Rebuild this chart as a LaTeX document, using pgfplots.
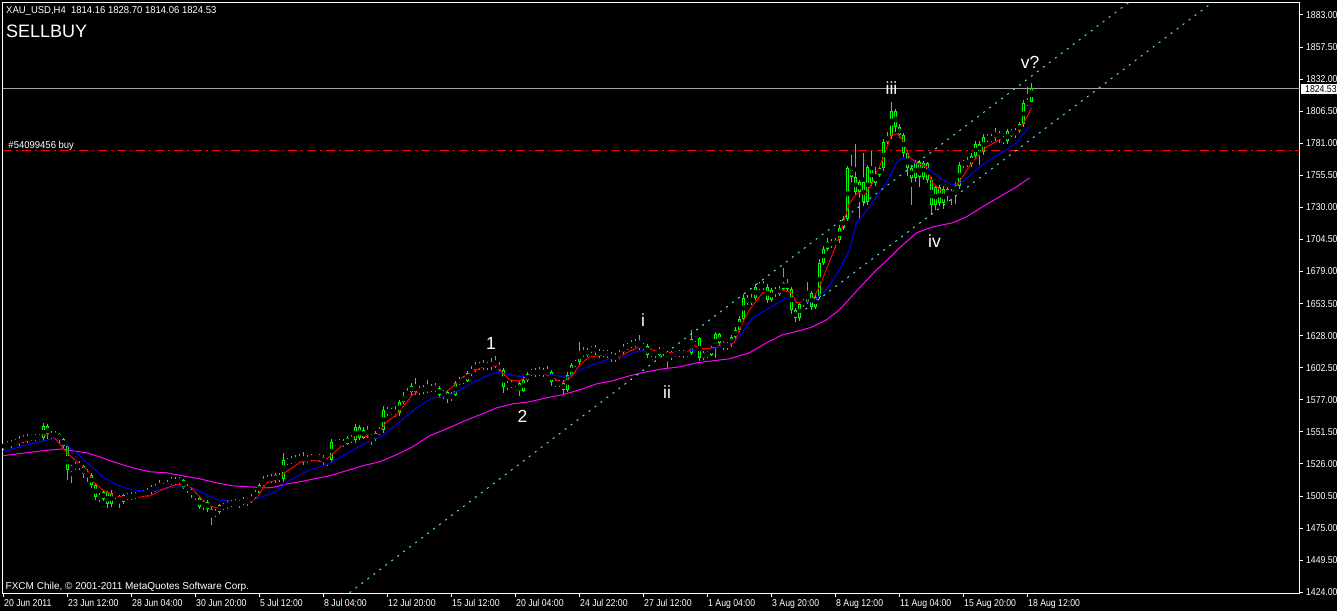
\documentclass[border=0pt]{standalone}
\usepackage{pgfplots}
\pgfplotsset{compat=1.18}
\usepackage{pgfplotstable}
\usepackage{fontspec}
\setmainfont{Liberation Sans}
\newfontfamily\mtfontA[FakeStretch=0.87]{Liberation Sans}
\newfontfamily\mtfontB[FakeStretch=0.95]{Liberation Sans}
\newcommand\mtA{\mtfontA\fontsize{10}{12}\selectfont}
\newcommand\mtB{\mtfontB\fontsize{10}{12}\selectfont}
\newcommand\mtC{\fontsize{10}{12}\selectfont}
\newcommand\wavefont{\fontsize{17.5}{20}\selectfont}
\newcommand\titlefont{\fontsize{18}{21}\selectfont}
\definecolor{cgreen}{RGB}{0,255,0}
\definecolor{mablue}{RGB}{0,0,255}
\definecolor{mared}{RGB}{255,0,0}
\definecolor{mamag}{RGB}{255,0,255}
\definecolor{chan}{RGB}{90,225,235}
\definecolor{pline}{RGB}{160,160,160}

\pgfplotstableread{
i o h l c
0 1540 1543 1537 1541
1 1541 1544 1539 1540.5
2 1540.5 1545 1539 1543.5
3 1543.5 1546 1541 1542.5
4 1542.5 1548 1540 1546
5 1546 1549 1543 1545
6 1545 1550 1543 1547.5
7 1547.5 1549 1544 1546
8 1546 1550 1544.5 1548
9 1548 1550 1545 1546.5
10 1546.5 1558.5 1544 1556
11 1556 1558 1546 1549.5
12 1549.5 1552 1546 1548
13 1548 1552 1546.5 1549.5
14 1549.5 1551 1543 1546
15 1546 1547 1538 1540
16 1540 1541 1513.5 1521.5
17 1521.5 1525 1511 1523
18 1523 1527.5 1521 1525.5
19 1525.5 1528 1521.5 1524
20 1524 1525 1515 1518
21 1518 1522 1512 1517
22 1517 1519 1507 1509.5
23 1509.5 1511 1497 1500
24 1500 1503 1496 1498.5
25 1498.5 1505 1496.5 1503.5
26 1503.5 1504.5 1491 1494
27 1494 1505 1492 1503
28 1503 1504 1498 1500
29 1500 1501.5 1491 1496
30 1496 1502.5 1494.5 1501
31 1501 1503 1497 1498.5
32 1498.5 1503.5 1497 1501.5
33 1501.5 1504 1498 1500.5
34 1500.5 1505.5 1499 1503
35 1503 1505 1500 1502
36 1502 1507 1500.5 1504
37 1504 1509 1502 1507.5
38 1507.5 1510 1504 1506
39 1506 1513.5 1505 1509
40 1509 1511 1505.5 1508
41 1508 1513 1506 1511
42 1511 1516 1509 1513
43 1513 1515.5 1509 1511.5
44 1511.5 1516 1509.5 1513.5
45 1513.5 1514 1506 1508
46 1508 1510 1503 1505
47 1505 1507 1499 1502
48 1502 1504 1497 1499
49 1499 1500 1490.5 1492
50 1492 1497.5 1489 1496
51 1496 1497 1488 1490
52 1490 1492 1477.5 1486
53 1486 1490 1483.5 1488
54 1488 1494.5 1486 1493
55 1493 1495 1489 1491.5
56 1491.5 1497 1490 1495
57 1495 1497.5 1492 1494
58 1494 1498 1492.5 1495.5
59 1495.5 1497.5 1491 1494.5
60 1494.5 1500 1493 1497.5
61 1497.5 1499 1492.5 1496
62 1496 1502 1495 1500
63 1500 1505 1498.5 1503
64 1503 1511 1502 1509.5
65 1509.5 1516.5 1508.5 1512.5
66 1512.5 1517 1511 1515
67 1515 1518 1511 1513
68 1513 1519 1511 1517
69 1517 1519 1512 1514
70 1514 1535 1512 1529
71 1529 1531 1525 1527.5
72 1527.5 1532 1526 1529.5
73 1529.5 1533 1526.5 1528.5
74 1528.5 1534 1527.5 1531
75 1531 1535.5 1525 1529
76 1529 1533 1527 1530.5
77 1530.5 1534 1528 1532
78 1532 1533.5 1528 1530
79 1530 1534 1528.5 1531.5
80 1531.5 1533 1525 1527.5
81 1527.5 1531 1524 1529
82 1529 1546 1527 1543.5
83 1543.5 1545 1540 1542
84 1542 1546 1540.5 1543
85 1543 1545.5 1539.5 1542
86 1542 1548 1541 1546.5
87 1546.5 1549 1543 1545
88 1545 1558 1543 1555
89 1555 1557 1545 1547
90 1547 1555 1545.5 1553
91 1553 1556 1547 1549
92 1549 1550 1541 1546
93 1546 1552 1544.5 1550.5
94 1550.5 1555 1549 1553
95 1553 1572 1551 1569
96 1569 1571 1564.5 1566.5
97 1566.5 1570.5 1565 1568
98 1568 1572 1563 1566.5
99 1566.5 1577 1564.5 1575
100 1575 1583 1573.5 1580
101 1580 1586 1579 1583
102 1583 1590 1581 1588
103 1588 1594 1581 1583
104 1583 1588 1581 1586
105 1586 1589 1581.5 1584
106 1584 1593 1582.5 1587
107 1587 1589.5 1583 1585
108 1585 1590 1583.5 1586.5
109 1586.5 1588 1579 1581
110 1581 1585 1578 1583
111 1583 1584 1574.5 1577.5
112 1577.5 1583 1576 1581
113 1581 1592 1580 1590
114 1590 1595 1588.5 1593
115 1593 1596 1589.5 1592
116 1592 1600 1591 1598
117 1598 1603.5 1596 1601
118 1601 1607 1599.5 1605
119 1605 1607 1601 1603
120 1603 1608.5 1601 1606
121 1606 1607 1601 1603
122 1603 1610 1601 1607
123 1607 1611.5 1602 1605
124 1605 1607 1599 1601
125 1601 1602 1582.5 1587.5
126 1587.5 1592 1585 1590
127 1590 1592.5 1586 1588.5
128 1588.5 1593 1587 1590.5
129 1590.5 1592 1580 1584
130 1584 1595 1583 1592.5
131 1592.5 1599 1591 1597.5
132 1597.5 1601.5 1596 1600
133 1600 1602 1595.5 1597
134 1597 1603 1596 1600
135 1600 1602.5 1595 1598
136 1598 1603.5 1596 1599.5
137 1599.5 1601 1588 1591
138 1591 1593 1587 1589.5
139 1589.5 1593 1587.5 1590.5
140 1590.5 1593 1582 1584.5
141 1584.5 1599 1583 1597
142 1597 1606 1596 1604.5
143 1604.5 1609 1603 1607
144 1607 1623 1605 1615
145 1615 1619 1611 1613
146 1613 1618.5 1611 1616.5
147 1616.5 1620 1614.5 1618
148 1618 1620.5 1613 1615
149 1615 1617.5 1610.5 1613
150 1613 1617 1611 1614.5
151 1614.5 1616.5 1610 1613
152 1613 1615 1607 1610.5
153 1610.5 1614 1607 1611.5
154 1611.5 1617 1609.5 1615
155 1615 1621.5 1613.5 1619
156 1619 1622 1617 1620
157 1620 1624.5 1618 1622.5
158 1622.5 1625 1619 1621.5
159 1621.5 1628.5 1617 1619
160 1619 1622 1617 1620
161 1620 1621 1610 1613
162 1613 1616 1611 1614.5
163 1614.5 1616.5 1610.5 1613
164 1613 1619 1611.5 1617
165 1617 1618.5 1612 1615
166 1615 1616 1602.5 1611
167 1611 1616 1609 1614
168 1614 1616 1611 1613
169 1613 1616.5 1611 1614.5
170 1614.5 1617 1610.5 1613
171 1613 1616 1611 1614
172 1614 1632.5 1613 1625
173 1625 1628 1623 1626
174 1626 1627 1607.5 1610.5
175 1610.5 1616 1609 1614
176 1614 1615.5 1610.5 1613
177 1613 1620 1612 1618.5
178 1618.5 1631 1610 1629
179 1629 1630.5 1620 1622
180 1622 1623.5 1617 1619.5
181 1619.5 1623 1617 1621
182 1621 1628.5 1619 1627
183 1627 1634.5 1625 1632.5
184 1632.5 1643.5 1631 1641.5
185 1641.5 1661 1640 1658
186 1658 1660 1652 1654
187 1654 1661 1652 1658
188 1658 1669 1656 1666.5
189 1666.5 1671 1664.5 1668
190 1668 1671.5 1664 1667
191 1667 1669 1654 1656.5
192 1656.5 1666 1654.5 1664
193 1664 1667 1659 1661.5
194 1661.5 1667.5 1659.5 1665.5
195 1665.5 1682 1663.5 1670
196 1670 1673 1663 1665.5
197 1665.5 1667 1645.5 1648.5
198 1648.5 1650 1639 1642
199 1642 1655 1640 1653.5
200 1653.5 1657.5 1651 1655
201 1655 1671 1653 1662
202 1662 1663.5 1648.5 1651
203 1651 1661 1649 1659
204 1659 1689 1657 1686
205 1686 1699 1684 1697
206 1697 1706 1695 1702.5
207 1702.5 1705 1698 1700
208 1700 1706 1698 1704
209 1704 1716 1702 1714
210 1714 1723 1712 1721
211 1721 1763 1719 1761
212 1761 1772 1750 1754
213 1754 1780 1740 1742
214 1742 1752 1720 1750
215 1750 1773 1731 1734
216 1734 1764 1732 1762
217 1762 1775 1747 1749.5
218 1749.5 1762 1747 1756
219 1756 1763 1754 1761
220 1761 1784 1759 1782
221 1782 1790 1780 1786.5
222 1786.5 1814 1784 1807
223 1807 1808.5 1790 1794
224 1794 1796 1785 1787.5
225 1787.5 1789 1770 1773
226 1773 1776 1755 1761.5
227 1761.5 1764 1732 1753.5
228 1753.5 1768 1750 1766
229 1766 1768 1746 1754
230 1754 1767 1752 1765
231 1765 1766 1749 1752
232 1752 1754 1724 1732
233 1732 1748 1728 1746
234 1746 1748 1731 1733.5
235 1733.5 1747 1729 1745
236 1745 1746.5 1735 1739
237 1739 1745 1732 1743
238 1743 1750 1733 1747
239 1747 1766 1745 1763.5
240 1763.5 1768 1761 1766
241 1766 1770 1762 1764.5
242 1764.5 1773 1762 1771
243 1771 1782.5 1769 1780.5
244 1780.5 1782.5 1764 1774
245 1774 1788 1772 1786
246 1786 1788.5 1782 1784
247 1784 1788 1782 1785.5
248 1785.5 1793 1783 1789
249 1789 1791 1781 1785.5
250 1785.5 1787 1780 1782.5
251 1782.5 1792.5 1780 1790.5
252 1790.5 1792 1786 1788
253 1788 1793 1785 1791
254 1791 1798 1789.5 1796
255 1796 1815 1794 1813
256 1813 1826 1811 1814
257 1814.16 1828.70 1814.06 1824.53
}\candles

\begin{document}
\begin{tikzpicture}[x=1pt,y=1pt]
\useasboundingbox (0,0) rectangle (1337,611);
\fill[black] (0,0) rectangle (1337,611);
\begin{axis}[
  at={(2.5pt,17.5pt)}, anchor=south west,
  scale only axis, width=1297pt, height=591pt,
  xmin=-0.25, xmax=324, ymin=1423.0, ymax=1892.9,
  axis background/.style={fill=black},
  axis line style={white, line width=1pt},
  tick style={white, line width=1pt},
  tick align=outside, major tick length=3pt,
  xtick pos=bottom, ytick pos=right, yticklabel pos=right,
  xtick={0,16,...,256},
  xticklabels={20 Jun 2011, 23 Jun 12:00, 28 Jun 04:00, 30 Jun 20:00, 5 Jul 12:00, 8 Jul 04:00, 12 Jul 20:00, 15 Jul 12:00, 20 Jul 04:00, 24 Jul 22:00, 27 Jul 12:00, 1 Aug 04:00, 3 Aug 20:00, 8 Aug 12:00, 11 Aug 04:00, 15 Aug 20:00, 18 Aug 12:00},
  ytick={1424,1449.5,1475,1500.5,1526,1551.5,1577,1602.5,1628,1653.5,1679,1704.5,1730,1755.5,1781,1806.5,1832,1857.5,1883},
  scaled y ticks=false,
  yticklabel style={font=\mtA, text=white, anchor=west, inner sep=0pt, xshift=3.4pt,
    /pgf/number format/.cd, fixed, fixed zerofill, precision=2, 1000 sep={}, assume math mode=true},
  xticklabel style={font=\mtA, text=white, anchor=base west, inner sep=0pt, xshift=0.5pt, yshift=-10.4pt},
]
\addplot[pline, line width=1pt, forget plot] coordinates {(-5,1824.53) (330,1824.53)};
\addplot[mared, line width=1pt, dash pattern=on 9pt off 4pt on 2pt off 4pt, forget plot] coordinates {(-5,1775) (330,1775)};
% wicks
\addplot[forget plot, only marks, mark=none,
  error bars/.cd, y dir=both, y explicit, error mark=none,
  error bar style={draw=cgreen, line width=1pt}]
  table[x=i, y expr={0.5*(\thisrow{h}+\thisrow{l})}, y error expr={0.5*(\thisrow{h}-\thisrow{l})}] {\candles};
% bodies
\addplot[forget plot, only marks, mark=none,
  error bars/.cd, y dir=both, y explicit, error mark=none,
  error bar style={draw=cgreen, line width=3pt}]
  table[x=i, y expr={0.5*(\thisrow{o}+\thisrow{c})}, y error expr={max(0.4,0.5*abs(\thisrow{c}-\thisrow{o}))}] {\candles};
\addplot[forget plot, only marks, mark=none,
  error bars/.cd, y dir=both, y explicit, error mark=none,
  error bar style={draw=black, line width=1pt}]
  table[x=i, y expr={0.5*(\thisrow{o}+\thisrow{c})}, y error expr={max(0,0.5*abs(\thisrow{c}-\thisrow{o})-0.8)}] {\candles};
% moving averages
\addplot[mamag, line width=1pt] coordinates {
(-0.25,1532.5) (5.75,1534.9) (9.75,1536.5) (14.75,1538) (17.25,1536.5) (20.75,1534.9) (24,1531.7) (28.25,1526.9) (32.25,1523) (36.5,1519.8) (40.75,1519) (44.75,1516.6) (49,1514.2) (53.25,1511) (57.25,1508.6) (61.5,1507.8) (65.75,1507) (68.25,1507.8) (69.75,1509.4) (74,1511.8) (81.5,1516.6) (89.75,1524.5) (94,1527.7) (98.25,1533.3) (102.25,1539.6) (106.5,1548.4) (110.75,1553.9) (114.75,1559.5) (119,1565) (123.25,1570.6) (127.25,1573.8) (131.5,1575.4) (135.75,1578.6) (139.75,1581) (144,1584.9) (148.25,1589.7) (152.25,1592.1) (156.5,1596.1) (160.75,1599.3) (164.75,1601.6) (169,1603.2) (173.25,1606.4) (177.25,1608) (181.5,1609.6) (186.5,1614.4) (190.75,1622.3) (194.75,1628.7) (199,1631.9) (202.25,1635) (205.75,1640.6) (209,1648.6) (211.5,1657.3) (214,1666) (217.75,1678.8) (221,1688.3) (224,1697.8) (228.25,1709.8) (232.25,1714.5) (237.25,1717.7) (240.75,1722.5) (244.75,1730.4) (249,1738.4) (253.25,1746.3) (256.5,1753.5)};
\addplot[mablue, line width=1pt] coordinates {
(-0.25,1535.7) (4,1539.6) (9,1543.6) (12.25,1546) (14.5,1545.2) (15.75,1541.3) (18.25,1534.9) (21.5,1525.3) (24.75,1515.8) (28.25,1509.4) (32,1505.5) (36.5,1503.9) (39.75,1506.2) (44,1507.8) (47.25,1507) (50.75,1501.5) (53.5,1497.5) (57.25,1496) (61.5,1496) (64.75,1500) (68.25,1503.9) (71.5,1513) (76.5,1521.4) (80.75,1525.3) (84,1531) (88.25,1538.8) (92.25,1545.2) (94.75,1548.4) (99,1559.5) (103.25,1570.6) (107.25,1578.6) (110.75,1579.4) (113.25,1583.3) (117.25,1590.5) (121.5,1596.9) (124,1599.3) (126.5,1596.9) (129.75,1595.3) (134,1598.5) (137.25,1596.9) (140.75,1594.5) (143.25,1599.3) (146.5,1604) (151.5,1609.6) (154.75,1611) (159,1616) (163.25,1615.2) (168.25,1614.4) (173.25,1616.8) (177.25,1617.6) (181.5,1620.7) (184,1627) (187.25,1642.2) (190.75,1648.6) (195.75,1658.1) (199,1654.1) (202.25,1654.9) (205.75,1664.5) (209,1680.4) (211.5,1696.3) (213.25,1717.7) (216.5,1730.4) (220.75,1749.5) (223.25,1765.4) (224.75,1769.4) (227.25,1766.2) (230.75,1762.2) (234,1753.5) (237.25,1747.9) (239.75,1750.3) (243.25,1759.9) (246.5,1767.8) (250.75,1775.8) (253.25,1781.3) (254.75,1787.7) (256.5,1794)};
\addplot[mared, line width=1pt] coordinates {
(-0.25,1539) (4,1542.5) (9.75,1549) (12.25,1549) (15.25,1537) (18.25,1528) (21,1521) (22.75,1511) (24.75,1505.5) (28.25,1500) (32.25,1500) (36.5,1500.5) (38.25,1503) (39.75,1506) (43.25,1509.5) (44.75,1509.5) (47,1507) (49,1500) (51,1493.5) (53.25,1491) (55.75,1493.5) (57.25,1495) (60.75,1495) (62,1496) (63.5,1500) (65.75,1511) (68.25,1513.5) (70.75,1520) (74,1527) (76.5,1529.3) (79.75,1527.7) (82,1533) (84.75,1541) (88.25,1549) (91.5,1547.6) (93.5,1549) (95.75,1559.5) (98.25,1565) (100.25,1573) (102.25,1581) (104.75,1585) (108.25,1585) (110.25,1582.5) (112.25,1587.3) (114.75,1594.5) (117.25,1599.3) (119.75,1603.2) (123.25,1604) (124.75,1598.5) (126.5,1593) (129,1592) (131.5,1597) (134.75,1598.5) (137.25,1594.5) (139.75,1590.5) (142,1595.3) (144,1604.8) (146.5,1611) (150.75,1613) (154,1611.5) (156.5,1615.5) (158.5,1618.5) (160.75,1618.3) (164,1615) (167.25,1614.4) (170.75,1614.4) (172.75,1620) (174.75,1617.6) (177.25,1618.3) (179,1620.7) (181,1619) (182.75,1623) (184.5,1636.6) (186.5,1648.6) (189.75,1662) (192.25,1662) (194.75,1664.5) (197,1662) (198.25,1654) (200.75,1655) (202.25,1656.5) (204,1666.8) (206.5,1687) (209,1707) (211.5,1733.6) (213.5,1741.6) (215.25,1740) (217.25,1749.5) (219.75,1767.8) (222,1787.7) (223.5,1788.5) (224.75,1783.7) (226.5,1770) (228.25,1765.4) (230.75,1762.2) (232.25,1749.5) (234.75,1742.4) (237.25,1742.4) (239.75,1754.3) (242.25,1766.2) (245.75,1778.1) (249,1783.7) (252.25,1787.7) (254,1791.6) (255.75,1801.2) (257,1809.1)};
% channel lines
\addplot[chan, line width=1pt, dash pattern=on 2pt off 5.5pt] coordinates {(86.5,1423.6) (281.5,1893.4)};
\addplot[chan, line width=1pt, dash pattern=on 2pt off 5.5pt] coordinates {(199,1645.4) (302.4,1893.4)};
\end{axis}
% texts
\node[anchor=base west, inner sep=0pt, text=white, font=\mtB] at (6,597.3) {XAU\_USD,H4\ \ 1814.16 1828.70 1814.06 1824.53};
\node[anchor=base west, inner sep=0pt, text=white, font=\titlefont] at (6,573) {SELLBUY};
\node[anchor=base west, inner sep=0pt, text=white, font=\mtB] at (8.3,462.7) {\#54099456 buy};
\node[anchor=base west, inner sep=0pt, text=white, font=\mtC] at (5.5,21.7) {FXCM Chile, © 2001-2011 MetaQuotes Software Corp.};
\node[anchor=base, inner sep=0pt, text=white, font=\wavefont] at (491,262) {1};
\node[anchor=base, inner sep=0pt, text=white, font=\wavefont] at (522.5,189) {2};
\node[anchor=base, inner sep=0pt, text=white, font=\wavefont] at (643,284) {i};
\node[anchor=base, inner sep=0pt, text=white, font=\wavefont] at (667,213) {ii};
\node[anchor=base, inner sep=0pt, text=white, font=\wavefont] at (891.5,516) {iii};
\node[anchor=base, inner sep=0pt, text=white, font=\wavefont] at (934.5,363) {iv};
\node[anchor=base, inner sep=0pt, text=white, font=\wavefont] at (1030,542) {v?};
\node[anchor=west, fill=white, text=black, font=\mtA, inner xsep=4pt, inner ysep=0pt, minimum height=10pt] at (1301,522.4) {1824.53};
\end{tikzpicture}
\end{document}
